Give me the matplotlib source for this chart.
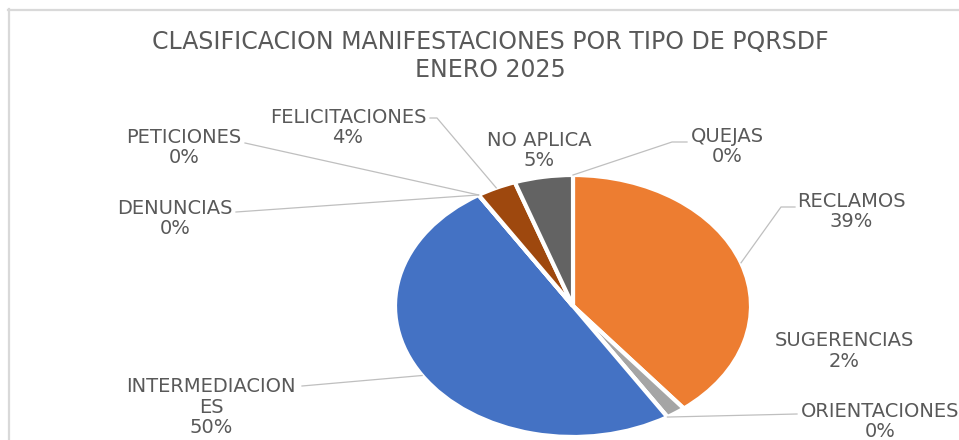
import numpy as np
import matplotlib
matplotlib.use("Agg")
import matplotlib.pyplot as plt
from matplotlib.lines import Line2D

plt.rcParams["font.family"] = ["DejaVu Sans"]

# data
categories = ["QUEJAS", "RECLAMOS", "SUGERENCIAS", "ORIENTACIONES",
              "INTERMEDIACIONES", "DENUNCIAS", "PETICIONES",
              "FELICITACIONES", "NO APLICA"]
pct = [0, 39.3, 1.8, 0, 50.0, 0, 0, 3.6, 5.3]
label_names = ["QUEJAS", "RECLAMOS", "SUGERENCIAS", "ORIENTACIONES",
               "INTERMEDIACION\nES", "DENUNCIAS", "PETICIONES",
               "FELICITACIONES", "NO APLICA"]
colors = ["#FFC000", "#ED7D31", "#A5A5A5", "#5B9BD5", "#4472C4",
          "#70AD47", "#264478", "#9E480E", "#636363"]

W, H = 959, 440
fig = plt.figure(figsize=(W / 100, H / 100), dpi=100)


def fx(x):
    return x / W


def fy(y):
    return 1 - y / H


# pie (stretched into an ellipse like the original)
cx, cy, rx, ry = 573, 306, 178, 131
ax = fig.add_axes([fx(cx - rx), fy(cy + ry), 2 * rx / W, 2 * ry / H])
wedges, _ = ax.pie(pct, colors=colors, startangle=90, counterclock=False,
                   wedgeprops=dict(edgecolor="white", linewidth=3))
ax.set_aspect("auto")
ax.set_xlim(-1, 1)
ax.set_ylim(-1, 1)
ax.axis("off")

to_fig = fig.transFigure.inverted()


def anchor(w):
    t = np.deg2rad((w.theta1 + w.theta2) / 2)
    p = ax.transData.transform((np.cos(t), np.sin(t)))
    return to_fig.transform(p)


# label layout: centre of text block, leader line start points (pixels)
layout = {
    "QUEJAS": ((727, 146.5), [(687, 142), (672, 142)]),
    "RECLAMOS": ((851, 211.5), [(795, 207), (781, 207)]),
    "SUGERENCIAS": ((844, 351), None),
    "ORIENTACIONES": ((880, 421.5), [(797, 414)]),
    "INTERMEDIACIONES": ((211, 407), [(302, 386)]),
    "DENUNCIAS": ((175, 218.5), [(236, 212)]),
    "PETICIONES": ((184, 147.5), [(245, 143)]),
    "FELICITACIONES": ((348, 127.5), [(430, 118), (437, 118)]),
    "NO APLICA": ((539, 150.5), None),
}

txt_color = "#595959"
line_color = "#BFBFBF"

for cat, name, p, w in zip(categories, label_names, pct, wedges):
    (tx, ty), pts = layout[cat]
    fig.text(fx(tx), fy(ty), f"{name}\n{round(p)}%", ha="center", va="center",
             fontsize=14, color=txt_color, linespacing=1.12)
    if pts:
        ax_pt = anchor(w)
        xs = [fx(a) for a, b in pts] + [ax_pt[0]]
        ys = [fy(b) for a, b in pts] + [ax_pt[1]]
        fig.add_artist(Line2D(xs, ys, transform=fig.transFigure,
                              color=line_color, lw=0.9))

# title
fig.text(fx(490), fy(42), "CLASIFICACION MANIFESTACIONES POR TIPO DE PQRSDF",
         ha="center", va="center", fontsize=17, color=txt_color)
fig.text(fx(490), fy(70), "ENERO 2025", ha="center", va="center",
         fontsize=17, color=txt_color)

# chart border (only top and left visible in the crop)
fig.add_artist(Line2D([fx(8.5), fx(8.5)], [0, fy(9)], transform=fig.transFigure,
                      color="#D9D9D9", lw=1.6))
fig.add_artist(Line2D([fx(8), 1], [fy(10), fy(10)], transform=fig.transFigure,
                      color="#D9D9D9", lw=1.6))

fig.savefig("out.png", dpi=100, facecolor="white")
